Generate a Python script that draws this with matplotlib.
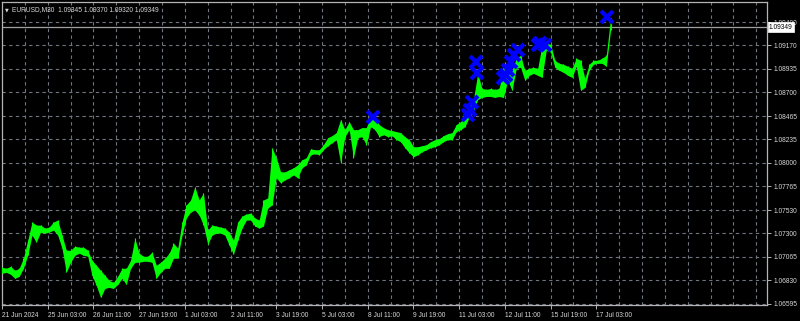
import matplotlib
matplotlib.use("Agg")
import matplotlib.pyplot as plt
import numpy as np

# EURUSD M30, sampled every 6 bars (high / low of the column)
highs = [1.0696, 1.0695, 1.0697, 1.0693, 1.0695, 1.0705, 1.0723, 1.0741, 1.0738, 1.0738,
         1.0735, 1.0736, 1.0741, 1.0743, 1.0728, 1.0713, 1.0713, 1.0717, 1.0716, 1.0716,
         1.0713, 1.0703, 1.0698, 1.0693, 1.0688, 1.0683, 1.0681, 1.0687, 1.0695, 1.0695,
         1.0703, 1.0725, 1.0710, 1.0707, 1.0707, 1.0711, 1.0698, 1.0701, 1.0705, 1.0710,
         1.0720, 1.0715, 1.0741, 1.0758, 1.0763, 1.0776, 1.0763, 1.0770, 1.0733, 1.0738,
         1.0737, 1.0736, 1.0735, 1.0731, 1.0723, 1.0741, 1.0747, 1.0749, 1.0750, 1.0745,
         1.0743, 1.0763, 1.0765, 1.0815, 1.0805, 1.0791, 1.0791, 1.0793, 1.0795, 1.0798,
         1.0803, 1.0805, 1.0814, 1.0813, 1.0813, 1.0818, 1.0825, 1.0827, 1.0830, 1.0843,
         1.0833, 1.0841, 1.0833, 1.0833, 1.0835, 1.0835, 1.0846, 1.0845, 1.0838, 1.0835,
         1.0833, 1.0832, 1.0831, 1.0830, 1.0826, 1.0823, 1.0816, 1.0816, 1.0817, 1.0818,
         1.0821, 1.0823, 1.0824, 1.0827, 1.0829, 1.0830, 1.0838, 1.0841, 1.0845, 1.0855,
         1.0863, 1.0889, 1.0874, 1.0873, 1.0874, 1.0873, 1.0874, 1.0895, 1.0899, 1.0892,
         1.0904, 1.0907, 1.0892, 1.0894, 1.0895, 1.0894, 1.0917, 1.0919, 1.0918, 1.0902,
         1.0899, 1.0898, 1.0896, 1.0894, 1.0904, 1.0902, 1.0884, 1.0898, 1.0902, 1.0902,
         1.0904, 1.0907, 1.0944]
lows = [1.0690, 1.0691, 1.0689, 1.0685, 1.0687, 1.0695, 1.0708, 1.0728, 1.0721, 1.0731,
        1.0730, 1.0731, 1.0733, 1.0728, 1.0715, 1.0691, 1.0701, 1.0708, 1.0710, 1.0708,
        1.0707, 1.0688, 1.0678, 1.0666, 1.0675, 1.0676, 1.0675, 1.0679, 1.0685, 1.0679,
        1.0695, 1.0701, 1.0701, 1.0702, 1.0702, 1.0701, 1.0685, 1.0691, 1.0695, 1.0695,
        1.0705, 1.0705, 1.0728, 1.0745, 1.0751, 1.0753, 1.0748, 1.0738, 1.0719, 1.0728,
        1.0730, 1.0730, 1.0728, 1.0718, 1.0709, 1.0723, 1.0735, 1.0743, 1.0743, 1.0737,
        1.0735, 1.0737, 1.0755, 1.0758, 1.0785, 1.0780, 1.0783, 1.0785, 1.0788, 1.0785,
        1.0795, 1.0798, 1.0808, 1.0809, 1.0808, 1.0813, 1.0817, 1.0820, 1.0823, 1.0800,
        1.0826, 1.0833, 1.0805, 1.0825, 1.0826, 1.0818, 1.0836, 1.0833, 1.0826, 1.0828,
        1.0826, 1.0827, 1.0823, 1.0821, 1.0815, 1.0810, 1.0806, 1.0808, 1.0811, 1.0813,
        1.0815, 1.0816, 1.0818, 1.0821, 1.0823, 1.0823, 1.0831, 1.0833, 1.0836, 1.0845,
        1.0851, 1.0863, 1.0865, 1.0866, 1.0866, 1.0865, 1.0866, 1.0865, 1.0882, 1.0872,
        1.0894, 1.0895, 1.0882, 1.0887, 1.0889, 1.0887, 1.0885, 1.0912, 1.0910, 1.0895,
        1.0892, 1.0890, 1.0887, 1.0885, 1.0896, 1.0872, 1.0875, 1.0892, 1.0898, 1.0899,
        1.0899, 1.0896, 1.0932]
bar_step = 6

# signal crosses (bar index, price)
sig_bars = [520, 653, 655, 658, 664, 665, 702, 705, 708, 712, 717, 723, 751, 753, 760, 847]
sig_prices = [1.0846, 1.0848, 1.0853, 1.0860, 1.0900, 1.0889, 1.0884, 1.0887, 1.0892,
              1.0900, 1.0907, 1.0912, 1.0917, 1.0919, 1.0917, 1.0945]

time_labels = ["21 Jun 2024", "25 Jun 03:00", "26 Jun 11:00", "27 Jun 19:00", "1 Jul 03:00",
               "2 Jul 11:00", "3 Jul 19:00", "5 Jul 03:00", "8 Jul 11:00", "9 Jul 19:00",
               "11 Jul 03:00", "12 Jul 11:00", "15 Jul 19:00", "17 Jul 03:00"]
price_levels = [1.09400, 1.09170, 1.08935, 1.08700, 1.08465, 1.08235, 1.08000,
                1.07765, 1.07530, 1.07300, 1.07065, 1.06830, 1.06595]
last_bid = 1.09349
header = "EURUSD,M30  1.09345 1.09370 1.09320 1.09349"

fam = ["Liberation Sans", "DejaVu Sans"]
fs = 4.8
fg = "#d8d8d8"
frame = "#b4b4b4"
green = "#00ff00"

fig = plt.figure(figsize=(8, 3.21), dpi=100, facecolor="black")
ax = fig.add_axes([2 / 800, 16 / 321, 765 / 800, 303 / 321], facecolor="black")

x = np.arange(len(highs)) * bar_step
ax.fill_between(x, lows, highs, color=green, lw=0, zorder=3)
ax.vlines(x, lows, highs, color=green, lw=0.8, zorder=3)
ax.plot(sig_bars, sig_prices, "x", color="#0000ff", ms=8.5, mew=3, zorder=4)

ax.set_xlim(0, 1071)
ax.set_ylim(1.06585, 1.0960)

# grid
for b in range(32, 1071, 32):
    ax.axvline(b, color="#6f7680", lw=0.8, ls=(0, (3, 3)), zorder=1)
for p in price_levels:
    ax.axhline(p, color="#6f7680", lw=0.8, ls=(0, (3, 3)), zorder=1)
ax.axhline(last_bid, color="#a0a0a0", lw=0.9, zorder=2)

ax.set_xticks(np.arange(len(time_labels)) * 64)
ax.set_xticklabels(time_labels, ha="left", family=fam, fontsize=fs, color=fg)
ax.yaxis.tick_right()
ax.set_yticks(price_levels)
ax.set_yticklabels([f"{p:.5f}" for p in price_levels], family=fam, fontsize=fs, color=fg)
ax.tick_params(axis="x", length=3, width=0.7, color=frame, pad=2)
ax.tick_params(axis="y", length=3, width=0.7, color=frame, pad=1.5)
for s in ax.spines.values():
    s.set_color(frame)
    s.set_linewidth(0.9)

ax.text(1.0025, last_bid, f"{last_bid:.5f}", transform=ax.get_yaxis_transform(),
        ha="left", va="center", family=fam, fontsize=fs, color="black", zorder=6,
        bbox=dict(boxstyle="square,pad=0.2", fc="white", ec="white", lw=0.5),
        clip_on=False)
ax.text(0.004, 0.975, "\u25BC", transform=ax.transAxes, ha="left", va="center",
        fontsize=3.5, color=fg, family="DejaVu Sans")
ax.text(0.013, 0.975, header, transform=ax.transAxes, ha="left", va="center",
        family=fam, fontsize=fs, color=fg)

fig.savefig("out.png", dpi=100, facecolor="black")
